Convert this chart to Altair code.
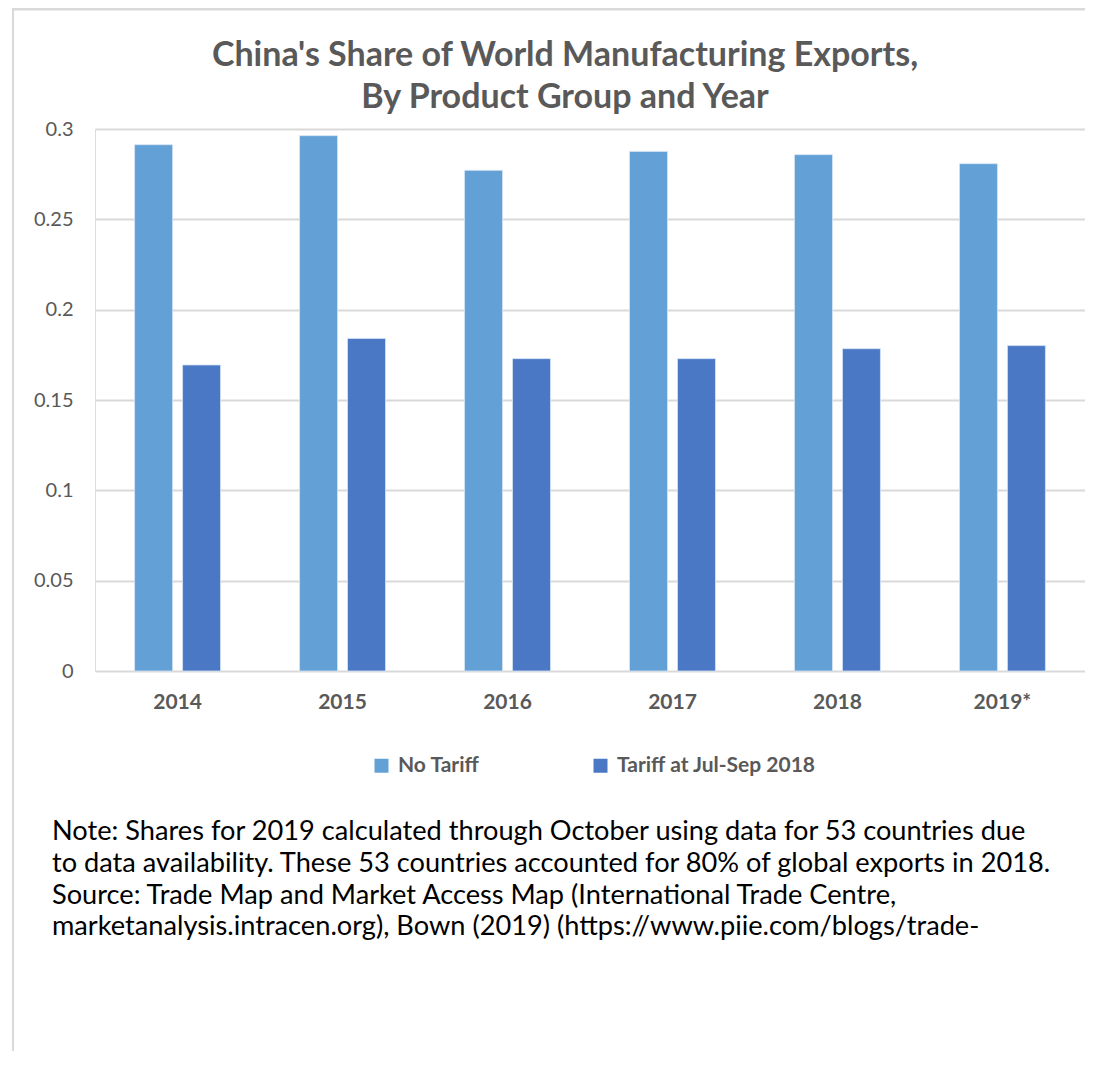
import altair as alt
import pandas as pd

years = ["2014", "2015", "2016", "2017", "2018", "2019*"]
series_names = ["No Tariff", "Tariff at Jul-Sep 2018"]
no_tariff = [0.2913, 0.2963, 0.2771, 0.2876, 0.2858, 0.2808]
tariff = [0.1694, 0.1841, 0.1729, 0.1729, 0.1784, 0.1801]
y_ticks = [0, 0.05, 0.1, 0.15, 0.2, 0.25, 0.3]
title_lines = ["China's Share of World Manufacturing Exports,", "By Product Group and Year"]
note_lines = [
    "Note: Shares for 2019 calculated through October using data for 53 countries due",
    "to data availability. These 53 countries accounted for 80% of global exports in 2018.",
    "Source: Trade Map and Market Access Map (International Trade Centre,",
    "marketanalysis.intracen.org), Bown (2019) (https://www.piie.com/blogs/trade-",
]
colors = ["#62A0D6", "#4A78C5"]

rows = []
for i, y in enumerate(years):
    rows.append({"year": y, "series": series_names[0], "value": no_tariff[i]})
    rows.append({"year": y, "series": series_names[1], "value": tariff[i]})
df = pd.DataFrame(rows)

FONT = "Lato"
GREY = "#595959"

bars = alt.Chart(df).mark_bar(stroke="#d6e4f5", strokeWidth=0.8).encode(
    x=alt.X("year:N", sort=years, title=None,
            scale=alt.Scale(paddingInner=0.479, paddingOuter=0.24),
            axis=alt.Axis(labelAngle=0, labelFont=FONT, labelFontSize=21,
                          labelFontWeight="bold", labelColor=GREY, ticks=False,
                          domain=False, labelPadding=20, grid=False)),
    xOffset=alt.XOffset("series:N", sort=series_names,
                        scale=alt.Scale(paddingInner=0.208, paddingOuter=0)),
    y=alt.Y("value:Q", title=None,
            scale=alt.Scale(domain=[0, 0.3], nice=False),
            axis=alt.Axis(values=y_ticks, format="~g", labelFont=FONT,
                          labelFontSize=20, labelColor=GREY, ticks=False,
                          domain=False, labelPadding=22, gridColor="#d9d9d9",
                          gridWidth=2)),
    color=alt.Color("series:N", sort=series_names,
                    scale=alt.Scale(domain=series_names, range=colors),
                    legend=alt.Legend(title=None, orient="none", legendX=276,
                                      legendY=626, direction="horizontal",
                                      symbolType="square", symbolSize=196,
                                      symbolStrokeWidth=0, labelFont=FONT,
                                      labelFontSize=21, labelFontWeight="bold",
                                      labelColor=GREY, labelOffset=6,
                                      labelLimit=0, columnPadding=110)),
)

title = alt.Chart(pd.DataFrame({"t": ["\n".join(title_lines)]})).mark_text(
    align="center", baseline="middle", lineBreak="\n", lineHeight=42,
    font=FONT, fontSize=34, fontWeight="bold", color=GREY
).encode(text="t:N", x=alt.value(470), y=alt.value(-73))

note = alt.Chart(pd.DataFrame({"note": ["\n".join(note_lines)]})).mark_text(
    align="left", baseline="top", lineBreak="\n", lineHeight=31.8,
    font=FONT, fontSize=27.2, color="#000000"
).encode(text="note:N", x=alt.value(-43), y=alt.value(690))

border_left = alt.Chart(pd.DataFrame({"k": [0]})).mark_rule(
    color="#d9d9d9", strokeWidth=2
).encode(x=alt.value(-82), y=alt.value(-121), y2=alt.value(940))

border_top = alt.Chart(pd.DataFrame({"k": [0]})).mark_rule(
    color="#d9d9d9", strokeWidth=3
).encode(x=alt.value(-82), x2=alt.value(1000), y=alt.value(-120))

chart = alt.layer(bars, title, note, border_left, border_top).properties(
    width=990, height=542,
    autosize=alt.AutoSizeParams(type="none"),
    padding={"left": 87, "top": 121, "right": 0, "bottom": 380},
).configure_view(stroke=None).configure(background="white")

chart.save("out.html", embed_options={"renderer": "svg", "actions": False})
